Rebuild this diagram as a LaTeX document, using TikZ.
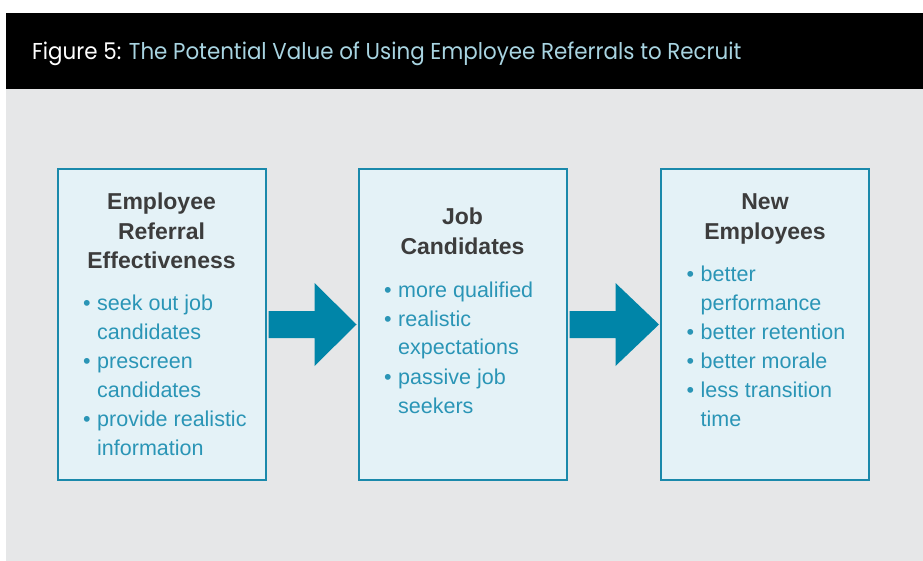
\documentclass[tikz,border=0pt]{standalone}
\usepackage{fontspec}
\setmainfont{Liberation Sans}
\newfontfamily\capfont{Poppins}
\usetikzlibrary{positioning}

\definecolor{panelgray}{HTML}{E6E7E8}
\definecolor{boxfill}{HTML}{E4F2F7}
\definecolor{boxline}{HTML}{1A89AB}
\definecolor{flowblue}{HTML}{0085A8}
\definecolor{itemblue}{HTML}{2A95B6}
\definecolor{headgray}{HTML}{3C3C3C}
\definecolor{capblue}{HTML}{A8D4E1}

\newcommand{\stacked}[1]{\begin{tabular}[t]{@{}c@{}}#1\end{tabular}}
\newcommand{\bulleted}[1]{\begin{tabular}[t]{@{}p{14pt}@{}l@{}}#1\end{tabular}}

\tikzset{
  stage/.style={draw=boxline, line width=2pt, fill=boxfill,
    minimum width=208pt, minimum height=310pt, inner sep=0pt},
  stagehead/.style={font=\bfseries\fontsize{23}{29.5}\selectfont,
    text=headgray, inner sep=0pt, anchor=base},
  stageitems/.style={font=\fontsize{21.5}{29}\selectfont,
    text=itemblue, inner sep=0pt, anchor=base west},
  flow/.style={fill=flowblue}
}

\begin{document}
\begin{tikzpicture}[x=1pt, y=-1pt]
    \useasboundingbox (0,0) rectangle (923,561);
    \fill[black] (6,13) rectangle (923,89);
    \fill[panelgray] (6,89) rectangle (923,561);
    \node[anchor=base west, inner sep=0pt, xscale=0.93, font=\capfont\fontsize{23}{28}\selectfont] (cap) at (32,60)
      {\textcolor{white}{Figure 5:} \textcolor{capblue}{The Potential Value of Using Employee Referrals to Recruit}};

    \node[stage] (b1) at (161.5,324.5) {};
    \node[stage, right=91pt of b1] (b2) {};
    \node[stage, right=92.5pt of b2] (b3) {};

    \node[stagehead] (h1) at ([shift={(0,41.5)}]b1.north) {\stacked{Employee\\Referral\\Effectiveness}};
    \node[stagehead] (h2) at ([shift={(0,56.5)}]b2.north) {\stacked{Job\\Candidates}};
    \node[stagehead] (h3) at ([shift={(0,41.5)}]b3.north) {\stacked{New\\Employees}};

    \node[stageitems] (l1) at ([shift={(26.5,141.5)}]b1.north west)
      {\bulleted{\textbullet & seek out job\\ & candidates\\ \textbullet & prescreen\\ & candidates\\ \textbullet & provide realistic\\ & information}};
    \node[stageitems] (l2) at ([shift={(26.5,128.5)}]b2.north west)
      {\bulleted{\textbullet & more qualified\\ \textbullet & realistic\\ & expectations\\ \textbullet & passive job\\ & seekers}};
    \node[stageitems] (l3) at ([shift={(26.5,112.5)}]b3.north west)
      {\bulleted{\textbullet & better\\ & performance\\ \textbullet & better retention\\ \textbullet & better morale\\ \textbullet & less transition\\ & time}};

    \foreach \from/\to in {b1/b2, b2/b3}
      \fill[flow] ([shift={(2,-13.5)}]\from.east) -- ([shift={(48,-13.5)}]\from.east)
        -- ([shift={(48,-41.5)}]\from.east) -- ([xshift=-1pt]\to.west)
        -- ([shift={(48,41.5)}]\from.east) -- ([shift={(48,13.5)}]\from.east)
        -- ([shift={(2,13.5)}]\from.east) -- cycle;
\end{tikzpicture}
\end{document}
